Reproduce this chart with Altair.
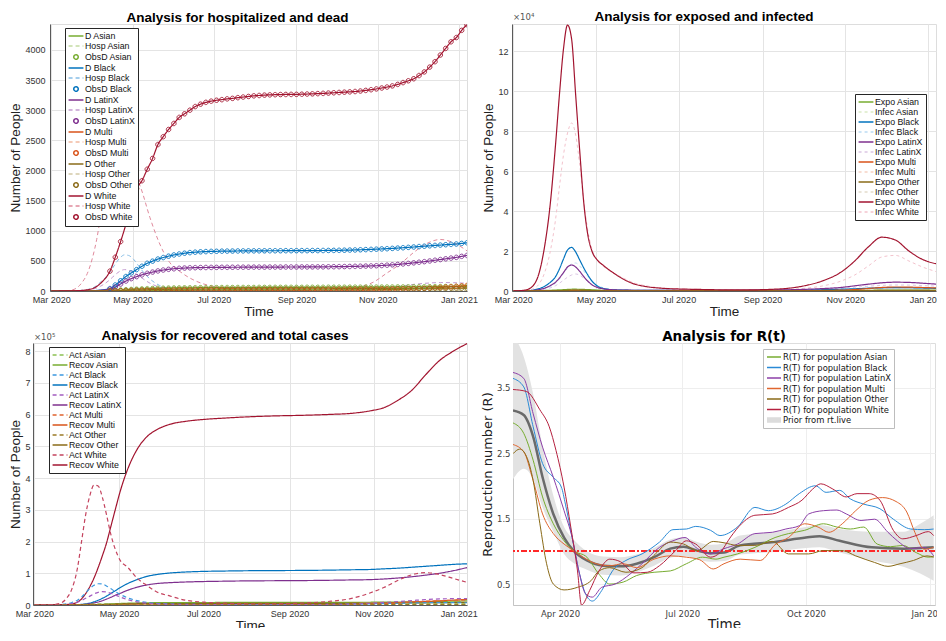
import altair as alt
import pandas as pd

RACES = ["Asian", "Black", "LatinX", "Multi", "Other", "White"]
BIG = ["Black", "LatinX", "White"]

SOLID = {"Asian": "#77AC30", "Black": "#0072BD", "LatinX": "#7E2F8E",
         "Multi": "#D95319", "Other": "#8A6A17", "White": "#A2142F"}
HOSP_C = {"Asian": "#c4dca3", "Black": "#86bde6", "LatinX": "#c49dd0",
          "Multi": "#f2b9a0", "Other": "#d3c9a6", "White": "#e08a9c"}
INFEC_C = {"Asian": "#dcebc6", "Black": "#bcdcf3", "LatinX": "#dcc6e4",
           "Multi": "#f6d2c3", "Other": "#e3dccb", "White": "#f3c3cd"}
ACT_C = {"Asian": "#8cc152", "Black": "#3b98df", "LatinX": "#a35cc0",
         "Multi": "#e0622d", "Other": "#9a7b26", "White": "#c4435e"}
RT_C = {"Asian": "#77AC30", "Black": "#2a8ad6", "LatinX": "#8c3fa8",
        "Multi": "#e0662f", "Other": "#8A6A17", "White": "#b5213f"}

# ---------------- time grids ----------------
G = ["2020-03-01", "2020-03-10", "2020-03-16", "2020-03-20", "2020-03-24", "2020-03-28",
     "2020-04-01", "2020-04-04", "2020-04-07", "2020-04-10", "2020-04-13", "2020-04-16",
     "2020-04-19", "2020-04-22", "2020-04-25", "2020-04-28", "2020-05-02", "2020-05-07",
     "2020-05-14", "2020-05-21", "2020-05-28", "2020-06-07", "2020-06-18", "2020-07-01",
     "2020-07-15", "2020-08-01", "2020-08-20", "2020-09-10", "2020-10-01", "2020-10-15",
     "2020-10-29", "2020-11-08", "2020-11-18", "2020-11-28", "2020-12-08", "2020-12-18",
     "2020-12-28", "2021-01-08"]
GC = ["2020-03-01", "2020-03-20", "2020-04-05", "2020-04-15", "2020-04-25", "2020-05-10",
      "2020-06-01", "2020-07-15", "2020-09-10", "2020-11-01", "2020-12-08", "2021-01-08"]
EARLY = ["2020-03-01", "2020-03-10", "2020-03-20", "2020-03-28", "2020-04-03", "2020-04-08"]
OBS_DATES = list(pd.date_range("2020-04-14", periods=68, freq="4D"))

# ---------------- panel 1: hospitalized and dead ----------------
HOSP_WHITE = [0, 2, 15, 50, 140, 290, 560, 850, 1230, 1550, 1850, 2080, 2220, 2260, 2220, 2120,
              1960, 1720, 1220, 800, 500, 300, 160, 75, 30, 15, 12, 12, 18, 50, 150, 300, 450,
              640, 790, 855, 800, 650]
HOSP_BLACK = [0, 0, 2, 5, 12, 25, 50, 90, 150, 210, 280, 380, 480, 560, 600, 590, 520, 370, 200,
              95, 40, 18, 8, 4, 2, 2, 2, 2, 3, 5, 10, 18, 30, 45, 60, 68, 65, 55]
HOSP_LATINX = [0, 0, 1, 3, 8, 16, 30, 50, 80, 120, 170, 230, 290, 335, 355, 345, 305, 230, 130,
               65, 30, 12, 5, 3, 2, 2, 2, 3, 5, 10, 25, 50, 80, 110, 130, 140, 138, 125]
HOSP_ASIAN = [0, 1, 5, 12, 15, 10, 4, 2, 2, 4, 10, 12]
HOSP_OTHER = [0, 1, 4, 8, 10, 7, 3, 1, 1, 3, 6, 7]
HOSP_MULTI = [0, 0, 2, 4, 5, 4, 2, 1, 2, 6, 25, 45]

D0_WHITE = [0, 1, 5, 20, 60, 150]
D0_BLACK = [0, 0, 1, 3, 8, 18]
D0_LATINX = [0, 0, 1, 2, 6, 14]
D0_ASIAN = [0, 0, 0, 1, 2, 3]
D0_MULTI = [0, 0, 0, 0, 0, 1]
D0_OTHER = [0, 0, 0, 0, 1, 1]

OBS_WHITE = [330, 560, 820, 1110, 1460, 1700, 1830, 2020, 2200, 2430,
             2560, 2680, 2780, 2880, 2940, 3000, 3060, 3100, 3130, 3150,
             3165, 3175, 3188, 3196, 3208, 3218, 3228, 3238, 3244, 3250,
             3254, 3257, 3259, 3261, 3262, 3263, 3265, 3268, 3271, 3275,
             3279, 3284, 3289, 3294, 3299, 3304, 3310, 3318, 3328, 3340,
             3353, 3368, 3384, 3403, 3428, 3458, 3488, 3522, 3575, 3635,
             3715, 3805, 3915, 4025, 4135, 4205, 4325, 4420]
OBS_BLACK = [40, 100, 170, 240, 300, 355, 410, 460, 495, 530,
             555, 578, 598, 614, 627, 637, 644, 650, 654, 657,
             659, 661, 662, 663, 664, 665, 666, 666, 667, 667,
             668, 668, 668, 669, 669, 669, 670, 670, 671, 671,
             672, 673, 674, 675, 677, 679, 681, 684, 687, 690,
             694, 698, 702, 707, 712, 718, 724, 730, 737, 743,
             750, 756, 762, 768, 774, 780, 790, 800]
OBS_LATINX = [30, 65, 115, 165, 205, 238, 268, 293, 314, 333,
              348, 360, 369, 376, 381, 385, 387, 389, 390, 391,
              392, 393, 393, 394, 394, 395, 395, 396, 396, 396,
              397, 397, 397, 398, 398, 398, 399, 399, 400, 400,
              401, 402, 403, 404, 405, 407, 409, 411, 413, 416,
              419, 423, 428, 434, 441, 449, 458, 467, 477, 487,
              498, 510, 522, 534, 546, 558, 575, 590]
OBS_ASIAN = [5, 10, 15, 20, 25, 30, 34, 38, 41, 44,
             46, 48, 50, 51, 52, 53, 54, 55, 55, 56,
             56, 57, 57, 57, 58, 58, 58, 58, 59, 59,
             59, 59, 60, 60, 60, 60, 60, 61, 61, 61,
             61, 62, 62, 62, 62, 63, 63, 63, 64, 64,
             65, 65, 66, 66, 67, 67, 68, 68, 69, 70,
             71, 72, 73, 74, 75, 76, 77, 78]
OBS_MULTI = [1, 2, 3, 4, 5, 6, 7, 8, 9, 10,
             10, 11, 11, 12, 12, 12, 13, 13, 13, 13,
             14, 14, 14, 14, 15, 15, 15, 15, 15, 15,
             15, 16, 16, 16, 16, 16, 16, 16, 17, 17,
             17, 17, 17, 18, 18, 18, 19, 19, 20, 20,
             21, 22, 23, 25, 27, 29, 32, 35, 39, 43,
             48, 53, 59, 65, 71, 77, 85, 92]
OBS_OTHER = [2, 4, 7, 10, 13, 16, 19, 21, 23, 25,
             27, 28, 29, 30, 31, 31, 32, 32, 33, 33,
             33, 34, 34, 34, 34, 35, 35, 35, 35, 35,
             35, 36, 36, 36, 36, 36, 36, 37, 37, 37,
             37, 37, 38, 38, 38, 38, 38, 39, 39, 39,
             39, 40, 40, 41, 41, 42, 42, 43, 43, 44,
             44, 45, 45, 46, 46, 47, 47, 48]

# ---------------- panel 2: exposed and infected ----------------
EXPO_WHITE = [0, 500, 3000, 9000, 22000, 42000, 72000, 98000, 121000, 133000, 126000, 98000,
              70000, 44000, 28000, 20000, 15500, 12500, 9000, 6000, 3800, 2200, 1400, 1000, 800,
              600, 550, 900, 2500, 5000, 9500, 15000, 22000, 26900, 25500, 20000, 15800, 13500]
INFEC_WHITE = [0, 200, 1200, 3500, 9000, 19000, 35000, 52000, 68000, 79000, 84000, 78000, 63000,
               45000, 30000, 21000, 15500, 12000, 9000, 6500, 4300, 2600, 1600, 1100, 850, 650,
               550, 650, 1300, 2500, 5000, 8000, 12500, 17000, 17800, 15000, 12000, 9500]
EXPO_BLACK = [0, 100, 500, 1200, 2300, 4200, 7000, 11000, 16000, 20500, 21800, 19500, 15500,
              11500, 8000, 5000, 2500, 1200, 600, 450, 350, 300, 280, 260, 250, 240, 250, 300,
              450, 650, 900, 1100, 1400, 1600, 1700, 1650, 1500, 1300]
INFEC_BLACK = [0, 30, 200, 500, 1100, 2200, 3800, 6000, 8800, 11500, 13500, 14000, 12500, 10000,
               7200, 4800, 2800, 1500, 750, 450, 330, 280, 260, 240, 230, 220, 230, 270, 380,
               550, 750, 950, 1200, 1400, 1500, 1480, 1350, 1200]
EXPO_LATINX = [0, 60, 300, 700, 1400, 2600, 4300, 6500, 9200, 12000, 13000, 12000, 9800, 7200,
               4900, 3100, 1800, 1000, 600, 450, 380, 350, 340, 330, 330, 340, 380, 500, 800,
               1200, 1800, 2600, 3400, 4100, 4400, 4300, 3900, 3400]
INFEC_LATINX = [0, 30, 180, 400, 800, 1500, 2600, 3900, 5400, 6900, 8000, 8500, 7900, 6400, 4700,
                3200, 2000, 1100, 650, 450, 370, 340, 330, 320, 320, 330, 360, 450, 650, 950,
                1400, 1900, 2400, 2800, 3000, 2950, 2700, 2400]
EXPO_ASIAN = [0, 150, 600, 900, 700, 250, 100, 60, 80, 250, 450, 400]
INFEC_ASIAN = [0, 80, 400, 650, 550, 250, 100, 60, 70, 200, 380, 350]
EXPO_MULTI = [0, 50, 200, 300, 250, 100, 50, 40, 80, 500, 2000, 1500]
INFEC_MULTI = [0, 30, 120, 200, 180, 80, 40, 30, 60, 300, 1400, 1300]
EXPO_OTHER = [0, 60, 250, 400, 300, 120, 60, 40, 50, 150, 300, 250]
INFEC_OTHER = [0, 40, 180, 300, 250, 110, 50, 35, 45, 120, 250, 220]

# ---------------- panel 3: recovered and total cases ----------------
RECOV_WHITE = [0, 0, 200, 600, 1500, 3500, 9000, 19000, 36000, 58000, 85000, 118000, 155000,
               195000, 245000, 295000, 360000, 425000, 490000, 530000, 552000, 570000, 579000,
               585000, 589000, 593000, 596000, 598000, 601000, 604000, 612000, 622000, 645000,
               676000, 725000, 770000, 800000, 826000]
ACT_WHITE = [0, 300, 2000, 6000, 20000, 50000, 115000, 200000, 285000, 345000, 378000, 375000,
             340000, 285000, 225000, 180000, 140000, 120000, 85000, 62000, 42000, 28000, 15000,
             9000, 6000, 4000, 4000, 6000, 12000, 20000, 38000, 55000, 77000, 95000, 102000,
             96000, 84000, 70000]
RECOV_BLACK = [0, 0, 30, 80, 200, 450, 1000, 2000, 3500, 6000, 10000, 15000, 21000, 28000, 36000,
               44000, 55000, 67000, 80000, 90000, 96000, 101000, 104000, 106000, 107000, 108000,
               108500, 109000, 110000, 111000, 112000, 114000, 116000, 119000, 122000, 125000,
               128000, 130000]
ACT_BLACK = [0, 100, 500, 1300, 3500, 8000, 15000, 25000, 38000, 52000, 62000, 67000, 66000,
             60000, 52000, 43000, 33000, 23000, 14000, 8000, 5000, 3000, 2000, 1500, 1200, 1000,
             1000, 1200, 1800, 2500, 3500, 4500, 5500, 6500, 7200, 7500, 7300, 7000]
RECOV_LATINX = [0, 0, 20, 50, 130, 300, 650, 1300, 2300, 4000, 6500, 9500, 13500, 18500, 24000,
                30000, 37000, 46000, 56000, 63000, 67500, 70500, 72500, 74000, 75000, 76000,
                76500, 77000, 78000, 79000, 80000, 82000, 85000, 89000, 94000, 100000, 108000,
                119000]
ACT_LATINX = [0, 60, 300, 800, 2000, 4500, 8500, 14000, 21000, 28000, 35000, 40000, 42000, 41000,
              37000, 32000, 25000, 17000, 10000, 6000, 3700, 2200, 1500, 1100, 900, 800, 800,
              1000, 1800, 3000, 5500, 8000, 11000, 14000, 17000, 19000, 20000, 20000]
ACT_ASIAN = [0, 100, 1500, 3000, 2800, 1500, 600, 300, 400, 1500, 3500, 3500]
RECOV_ASIAN = [0, 0, 300, 1500, 3500, 6000, 7500, 8000, 8200, 8800, 10500, 13000]
ACT_MULTI = [0, 50, 800, 1600, 1500, 900, 400, 300, 600, 3000, 12000, 16000]
RECOV_MULTI = [0, 0, 100, 600, 1500, 2800, 3500, 3800, 4200, 5500, 11000, 18000]
ACT_OTHER = [0, 80, 1000, 2000, 1800, 1000, 500, 300, 350, 900, 2000, 2200]
RECOV_OTHER = [0, 0, 200, 1000, 2200, 3800, 4500, 4800, 5000, 5500, 7000, 8500]

# ---------------- panel 4: R(t) ----------------
RT_WHITE = [("2020-02-26", 3.47), ("2020-03-07", 3.44), ("2020-03-17", 3.16), ("2020-03-24", 2.90),
            ("2020-03-29", 2.54), ("2020-04-04", 1.98), ("2020-04-09", 1.37), ("2020-04-14", 0.70),
            ("2020-04-17", 0.18), ("2020-04-23", 0.40), ("2020-04-30", 0.70), ("2020-05-08", 0.88),
            ("2020-05-16", 0.84), ("2020-05-26", 0.67), ("2020-06-05", 0.68), ("2020-06-14", 0.78),
            ("2020-06-26", 1.01), ("2020-07-04", 1.16), ("2020-07-11", 1.11), ("2020-07-22", 0.91),
            ("2020-07-29", 0.98), ("2020-08-06", 1.22), ("2020-08-14", 1.42), ("2020-08-24", 1.55),
            ("2020-09-06", 1.57), ("2020-09-18", 1.67), ("2020-09-28", 1.78), ("2020-10-06", 1.95),
            ("2020-10-12", 2.03), ("2020-10-21", 1.95), ("2020-10-31", 1.83), ("2020-11-08", 1.88),
            ("2020-11-17", 1.88), ("2020-11-25", 1.78), ("2020-12-05", 1.32), ("2020-12-12", 1.19),
            ("2020-12-22", 1.24), ("2020-12-31", 1.30), ("2021-01-04", 1.24)]
RT_BLACK = [("2020-02-26", 3.64), ("2020-03-05", 3.51), ("2020-03-12", 2.90), ("2020-03-19", 2.34),
            ("2020-03-27", 2.13), ("2020-04-02", 1.98), ("2020-04-05", 1.72), ("2020-04-10", 1.21),
            ("2020-04-15", 0.70), ("2020-04-20", 0.35), ("2020-04-25", 0.24), ("2020-05-02", 0.40),
            ("2020-05-10", 0.70), ("2020-05-20", 0.86), ("2020-06-01", 0.96), ("2020-06-14", 1.14),
            ("2020-06-24", 1.33), ("2020-07-04", 1.34), ("2020-07-11", 1.38), ("2020-07-22", 1.32),
            ("2020-07-29", 1.24), ("2020-08-11", 1.37), ("2020-08-24", 1.67), ("2020-09-03", 1.62),
            ("2020-09-16", 1.72), ("2020-09-26", 1.88), ("2020-10-08", 2.00), ("2020-10-16", 1.90),
            ("2020-10-26", 1.93), ("2020-11-03", 1.80), ("2020-11-13", 1.72), ("2020-11-25", 1.65),
            ("2020-12-05", 1.49), ("2020-12-18", 1.34), ("2020-12-28", 1.33), ("2021-01-04", 1.34)]
RT_LATINX = [("2020-02-26", 3.73), ("2020-03-05", 3.64), ("2020-03-12", 3.10), ("2020-03-19", 2.59),
             ("2020-03-27", 2.13), ("2020-04-04", 1.62), ("2020-04-10", 1.21), ("2020-04-15", 0.70),
             ("2020-04-20", 0.35), ("2020-04-25", 0.30), ("2020-05-02", 0.45), ("2020-05-12", 0.50),
             ("2020-05-23", 0.65), ("2020-06-01", 0.81), ("2020-06-14", 1.06), ("2020-06-24", 1.16),
             ("2020-07-03", 1.21), ("2020-07-11", 1.06), ("2020-07-22", 0.96), ("2020-08-01", 1.04),
             ("2020-08-11", 1.11), ("2020-08-24", 1.27), ("2020-09-06", 1.29), ("2020-09-16", 1.34),
             ("2020-09-26", 1.39), ("2020-10-03", 1.57), ("2020-10-14", 1.62), ("2020-10-24", 1.63),
             ("2020-10-31", 1.57), ("2020-11-11", 1.47), ("2020-11-21", 1.49), ("2020-12-01", 1.29),
             ("2020-12-08", 1.16), ("2020-12-18", 1.04), ("2020-12-28", 1.06), ("2021-01-04", 0.93)]
RT_ASIAN = [("2020-02-26", 2.96), ("2020-03-05", 2.80), ("2020-03-12", 2.39), ("2020-03-19", 1.83),
            ("2020-03-27", 1.42), ("2020-04-04", 1.16), ("2020-04-11", 1.01), ("2020-04-21", 0.91),
            ("2020-04-30", 0.65), ("2020-05-08", 0.50), ("2020-05-18", 0.53), ("2020-05-28", 0.63),
            ("2020-06-10", 0.68), ("2020-06-22", 0.70), ("2020-07-04", 0.81), ("2020-07-16", 0.91),
            ("2020-07-26", 0.88), ("2020-08-01", 0.91), ("2020-08-11", 0.96), ("2020-08-24", 1.06),
            ("2020-09-08", 1.21), ("2020-09-18", 1.27), ("2020-09-30", 1.32), ("2020-10-14", 1.42),
            ("2020-10-24", 1.37), ("2020-11-03", 1.34), ("2020-11-13", 1.37), ("2020-11-23", 1.11),
            ("2020-12-03", 1.07), ("2020-12-12", 1.09), ("2020-12-22", 0.98), ("2020-12-31", 0.91),
            ("2021-01-04", 0.92)]
RT_MULTI = [("2020-02-26", 2.63), ("2020-03-05", 2.52), ("2020-03-12", 2.08), ("2020-03-19", 1.57),
            ("2020-03-27", 1.27), ("2020-04-04", 1.11), ("2020-04-11", 1.01), ("2020-04-18", 0.91),
            ("2020-04-28", 0.81), ("2020-05-08", 0.78), ("2020-05-18", 0.81), ("2020-05-28", 0.75),
            ("2020-06-10", 0.88), ("2020-06-22", 0.93), ("2020-07-04", 0.91), ("2020-07-14", 0.87),
            ("2020-07-24", 0.73), ("2020-08-01", 0.81), ("2020-08-13", 0.88), ("2020-08-28", 0.86),
            ("2020-09-08", 1.10), ("2020-09-18", 1.21), ("2020-09-30", 1.42), ("2020-10-10", 1.37),
            ("2020-10-18", 1.29), ("2020-10-28", 1.42), ("2020-11-07", 1.62), ("2020-11-17", 1.78),
            ("2020-11-27", 1.82), ("2020-12-07", 1.76), ("2020-12-15", 1.60), ("2020-12-21", 1.29),
            ("2020-12-28", 1.03), ("2021-01-04", 1.06)]
RT_OTHER = [("2020-02-26", 2.49), ("2020-03-02", 2.56), ("2020-03-07", 2.45), ("2020-03-12", 2.08),
            ("2020-03-17", 1.42), ("2020-03-22", 0.81), ("2020-03-27", 0.50), ("2020-04-04", 0.41),
            ("2020-04-14", 0.45), ("2020-04-24", 0.55), ("2020-04-30", 0.70), ("2020-05-08", 0.75),
            ("2020-05-20", 0.68), ("2020-06-01", 0.75), ("2020-06-11", 0.96), ("2020-06-22", 1.14),
            ("2020-07-02", 1.11), ("2020-07-12", 1.01), ("2020-07-24", 1.15), ("2020-08-01", 1.13),
            ("2020-08-11", 1.09), ("2020-08-24", 1.09), ("2020-09-06", 1.15), ("2020-09-18", 0.96),
            ("2020-10-03", 0.96), ("2020-10-14", 1.01), ("2020-10-28", 1.01), ("2020-11-07", 0.93),
            ("2020-11-21", 0.83), ("2020-12-01", 0.77), ("2020-12-10", 0.81), ("2020-12-20", 0.86),
            ("2020-12-30", 0.93), ("2021-01-04", 0.91)]
RT_MEAN = [("2020-02-26", 3.15), ("2020-03-05", 3.08), ("2020-03-12", 2.75), ("2020-03-19", 2.13),
           ("2020-03-27", 1.57), ("2020-04-04", 1.21), ("2020-04-11", 1.01), ("2020-04-21", 0.86),
           ("2020-05-03", 0.78), ("2020-05-16", 0.77), ("2020-05-28", 0.81), ("2020-06-10", 0.91),
           ("2020-06-22", 1.04), ("2020-07-02", 1.07), ("2020-07-12", 1.01), ("2020-07-22", 0.97),
           ("2020-08-01", 0.98), ("2020-08-13", 1.09), ("2020-09-07", 1.14), ("2020-10-01", 1.21),
           ("2020-10-11", 1.23), ("2020-10-26", 1.16), ("2020-11-19", 1.06), ("2020-12-13", 1.04),
           ("2021-01-04", 1.06)]
RT_BAND = [("2020-02-26", 2.10, 4.30), ("2020-03-05", 2.26, 3.97), ("2020-03-12", 2.10, 3.40),
           ("2020-03-19", 1.67, 2.59), ("2020-03-27", 1.30, 1.85), ("2020-04-04", 0.96, 1.37),
           ("2020-04-11", 0.82, 1.18), ("2020-04-21", 0.72, 1.00), ("2020-05-03", 0.64, 0.92),
           ("2020-05-16", 0.63, 0.91), ("2020-05-28", 0.68, 0.95), ("2020-06-10", 0.78, 1.05),
           ("2020-06-22", 0.90, 1.18), ("2020-07-02", 0.93, 1.21), ("2020-07-12", 0.88, 1.14),
           ("2020-07-22", 0.84, 1.10), ("2020-08-01", 0.85, 1.12), ("2020-08-13", 0.95, 1.24),
           ("2020-09-07", 0.99, 1.29), ("2020-10-01", 1.05, 1.37), ("2020-10-11", 1.06, 1.40),
           ("2020-10-26", 0.98, 1.34), ("2020-11-19", 0.86, 1.30), ("2020-12-13", 0.76, 1.30),
           ("2020-12-25", 0.66, 1.42), ("2021-01-04", 0.55, 1.55)]

# ---------------- helpers ----------------
LINE = "M-1.75,0H1.75"
LINE4 = "M-1.65,0H1.65"
CIRC = "M-0.53,0A0.53,0.53 0 1,0 0.53,0A0.53,0.53 0 1,0 -0.53,0Z"
RECT = "".join(f"M-1.65,{v}H1.65" for v in ("-0.45", "-0.3", "-0.15", "0", "0.15", "0.3", "0.45"))
SOLIDD = [1, 0]
SYM = 72

F = "Liberation Sans"
FD = "DejaVu Sans"
IND = dict(color="independent", strokeDash="independent", shape="independent")


def frame(dates, values, name):
    assert len(dates) == len(values), name
    return pd.DataFrame({"date": pd.to_datetime(list(dates)), "value": values, "series": name})


def xaxis(vals, font, size, col, dcol, gcol, tsize):
    return alt.Axis(values=vals, format="%b %Y", labelFont=font, labelFontSize=size,
                    labelColor=col, labelPadding=4, labelOverlap=False, labelFlush=False,
                    ticks=False, domainColor=dcol, domainWidth=1, gridColor=gcol, gridWidth=1,
                    titleFont=font, titleFontSize=tsize, titleFontWeight="normal",
                    titleColor="#222222", titlePadding=0)


def yaxis(vals, font, size, col, dcol, gcol, tsize, lpad, expr=None, fmt=None):
    kw = dict(values=vals, labelFont=font, labelFontSize=size, labelColor=col,
              labelPadding=lpad, labelOverlap=False, ticks=False, domainColor=dcol,
              domainWidth=1, gridColor=gcol, gridWidth=1, titleFont=font, titleFontSize=tsize,
              titleFontWeight="normal", titleColor="#222222", titlePadding=2)
    if expr:
        kw["labelExpr"] = expr
    if fmt:
        kw["format"] = fmt
    return alt.Axis(**kw)


def legend(x, y, font=F, size=8.8, stroke="#262626", sym=None, rowpad=0.0):
    kw = dict(title=None, orient="none", legendX=x, legendY=y, fillColor="white",
              strokeColor=stroke, padding=3, labelFont=font, labelFontSize=size,
              labelColor="#111111", symbolSize=SYM, symbolStrokeWidth=1.5, rowPadding=rowpad,
              labelOffset=4, symbolOffset=3, labelLimit=300, cornerRadius=0)
    if sym:
        kw["symbolType"] = sym
    return alt.Legend(**kw)


def title(text, dx, font=F, offset=0):
    return alt.TitleParams(text, font=font, fontSize=13.5, fontWeight="bold", color="#000000",
                           dx=dx, offset=offset, anchor="middle", frame="group")


XDOM = [alt.DateTime(year=2020, month=2, date=29), alt.DateTime(year=2021, month=1, date=7)]
XVALS = [alt.DateTime(year=2020, month=m, date=1) for m in (3, 5, 7, 9, 11)] + \
        [alt.DateTime(year=2021, month=1, date=1)]
X4DOM = [alt.DateTime(year=2020, month=2, date=26), alt.DateTime(year=2021, month=1, date=5)]
X4VALS = [alt.DateTime(year=2020, month=m, date=1) for m in (4, 7, 10)] + \
         [alt.DateTime(year=2021, month=1, date=1)]

LAB = "#333333"
DOMC = "#5a5a5a"
GRIDC = "#e4e4e4"
H_TOP = 267
H_BOT = 262


def xenc(dom=XDOM, vals=XVALS, font=F, size=9, dcol=DOMC, gcol=GRIDC, tsize=13.5, col=LAB):
    return alt.X("date:T", scale=alt.Scale(domain=dom, nice=False),
                 axis=xaxis(vals, font, size, col, dcol, gcol, tsize), title="Time")


# ================= panel 1 =================
HOSP = {"Asian": HOSP_ASIAN, "Black": HOSP_BLACK, "LatinX": HOSP_LATINX,
        "Multi": HOSP_MULTI, "Other": HOSP_OTHER, "White": HOSP_WHITE}
D0 = {"Asian": D0_ASIAN, "Black": D0_BLACK, "LatinX": D0_LATINX,
      "Multi": D0_MULTI, "Other": D0_OTHER, "White": D0_WHITE}
OBS = {"Asian": OBS_ASIAN, "Black": OBS_BLACK, "LatinX": OBS_LATINX,
       "Multi": OBS_MULTI, "Other": OBS_OTHER, "White": OBS_WHITE}

hosp_df = pd.concat([frame(G if r in BIG else GC, HOSP[r], f"Hosp {r}") for r in RACES])
d_df = pd.concat([frame(list(pd.to_datetime(EARLY)) + OBS_DATES, D0[r] + OBS[r], f"D {r}")
                  for r in RACES])
obs_df = pd.concat([frame(OBS_DATES, OBS[r], f"ObsD {r}") for r in RACES])

dom1, col1, dash1, shp1 = [], [], [], []
for r in RACES:
    dom1 += [f"D {r}", f"Hosp {r}", f"ObsD {r}"]
    col1 += [SOLID[r], HOSP_C[r], SOLID[r]]
    dash1 += [SOLIDD, [4, 3], SOLIDD]
    shp1 += [LINE, LINE, CIRC]
leg1 = legend(15, 4)
c1 = alt.Color("series:N", scale=alt.Scale(domain=dom1, range=col1), legend=leg1)
sd1 = alt.StrokeDash("series:N", scale=alt.Scale(domain=dom1, range=dash1), legend=leg1)
sh1 = alt.Shape("series:N", scale=alt.Scale(domain=dom1, range=shp1), legend=leg1)
x1 = xenc()
y1 = alt.Y("value:Q", scale=alt.Scale(domain=[0, 4430], nice=False),
           axis=yaxis(list(range(0, 4001, 500)), F, 9, LAB, DOMC, GRIDC, 13.5, 5, fmt="d"),
           title="Number of People")

p1 = alt.layer(
    alt.Chart(hosp_df).mark_line(strokeWidth=1, interpolate="monotone", clip=True)
    .encode(x=x1, y=y1, color=c1, strokeDash=sd1),
    alt.Chart(d_df).mark_line(strokeWidth=1.2, interpolate="monotone", clip=True)
    .encode(x=x1, y=y1, color=c1, strokeDash=sd1),
    alt.Chart(obs_df).mark_point(filled=False, size=SYM, strokeWidth=0.9, opacity=1, clip=True)
    .encode(x=x1, y=y1, color=c1, shape=sh1, strokeDash=sd1),
).properties(width=417, height=H_TOP, title=title("Analysis for hospitalized and dead", -21))

# ================= panel 2 =================
EXPO = {"Asian": EXPO_ASIAN, "Black": EXPO_BLACK, "LatinX": EXPO_LATINX,
        "Multi": EXPO_MULTI, "Other": EXPO_OTHER, "White": EXPO_WHITE}
INFEC = {"Asian": INFEC_ASIAN, "Black": INFEC_BLACK, "LatinX": INFEC_LATINX,
         "Multi": INFEC_MULTI, "Other": INFEC_OTHER, "White": INFEC_WHITE}
infec_df = pd.concat([frame(G if r in BIG else GC, INFEC[r], f"Infec {r}") for r in RACES])
expo_df = pd.concat([frame(G if r in BIG else GC, EXPO[r], f"Expo {r}") for r in RACES])

dom2, col2, dash2 = [], [], []
for r in RACES:
    dom2 += [f"Expo {r}", f"Infec {r}"]
    col2 += [SOLID[r], INFEC_C[r]]
    dash2 += [SOLIDD, [3, 3]]
leg2 = legend(343, 70, sym=LINE)
c2 = alt.Color("series:N", scale=alt.Scale(domain=dom2, range=col2), legend=leg2)
sd2 = alt.StrokeDash("series:N", scale=alt.Scale(domain=dom2, range=dash2), legend=leg2)
y2 = alt.Y("value:Q", scale=alt.Scale(domain=[0, 133500], nice=False),
           axis=yaxis(list(range(0, 120001, 20000)), F, 9, LAB, DOMC, GRIDC, 13.5, 4,
                      "datum.value / 10000"),
           title="Number of People")
x2 = xenc()
exp_txt = pd.DataFrame({"t": ["\u00d710\u2074"]})
exp_txt5 = pd.DataFrame({"t": ["\u00d710\u2075"]})

p2 = alt.layer(
    alt.Chart(infec_df).mark_line(strokeWidth=1, interpolate="monotone", clip=True)
    .encode(x=x2, y=y2, color=c2, strokeDash=sd2),
    alt.Chart(expo_df).mark_line(strokeWidth=1.2, interpolate="monotone", clip=True)
    .encode(x=x2, y=y2, color=c2, strokeDash=sd2),
    alt.Chart(exp_txt).mark_text(align="left", baseline="bottom", font=FD, fontSize=8.5,
                                 color="#555555")
    .encode(x=alt.value(1), y=alt.value(-2), text="t:N"),
).properties(width=424, height=H_TOP,
             title=title("Analysis for exposed and infected", -20, offset=-10.5))

# ================= panel 3 =================
ACT = {"Asian": ACT_ASIAN, "Black": ACT_BLACK, "LatinX": ACT_LATINX,
       "Multi": ACT_MULTI, "Other": ACT_OTHER, "White": ACT_WHITE}
RECOV = {"Asian": RECOV_ASIAN, "Black": RECOV_BLACK, "LatinX": RECOV_LATINX,
         "Multi": RECOV_MULTI, "Other": RECOV_OTHER, "White": RECOV_WHITE}
act_df = pd.concat([frame(G if r in BIG else GC, ACT[r], f"Act {r}") for r in RACES])
recov_df = pd.concat([frame(G if r in BIG else GC, RECOV[r], f"Recov {r}") for r in RACES])

dom3, col3, dash3 = [], [], []
for r in RACES:
    dom3 += [f"Act {r}", f"Recov {r}"]
    col3 += [ACT_C[r], SOLID[r]]
    dash3 += [[4, 3], SOLIDD]
leg3 = legend(16, 4, sym=LINE)
c3 = alt.Color("series:N", scale=alt.Scale(domain=dom3, range=col3), legend=leg3)
sd3 = alt.StrokeDash("series:N", scale=alt.Scale(domain=dom3, range=dash3), legend=leg3)
y3 = alt.Y("value:Q", scale=alt.Scale(domain=[0, 826000], nice=False),
           axis=yaxis(list(range(0, 800001, 100000)), F, 9, LAB, DOMC, GRIDC, 13.5, 3,
                      "datum.value / 100000"),
           title="Number of People")
x3 = xenc()

p3 = alt.layer(
    alt.Chart(recov_df).mark_line(strokeWidth=1.2, interpolate="monotone", clip=True)
    .encode(x=x3, y=y3, color=c3, strokeDash=sd3),
    alt.Chart(act_df).mark_line(strokeWidth=1.2, interpolate="monotone", clip=True)
    .encode(x=x3, y=y3, color=c3, strokeDash=sd3),
    alt.Chart(exp_txt5).mark_text(align="left", baseline="bottom", font=FD, fontSize=8.5,
                                  color="#555555")
    .encode(x=alt.value(1), y=alt.value(-1), text="t:N"),
).properties(width=434, height=H_BOT,
             title=title("Analysis for recovered and total cases", -25, offset=-9.5))

# ================= panel 4 =================
RT = {"Asian": RT_ASIAN, "Black": RT_BLACK, "LatinX": RT_LATINX,
      "Multi": RT_MULTI, "Other": RT_OTHER, "White": RT_WHITE}
rt_df = pd.concat([frame([d for d, _ in RT[r]], [v for _, v in RT[r]],
                         f"R(T) for population {r}") for r in RACES])
mean_df = frame([d for d, _ in RT_MEAN], [v for _, v in RT_MEAN], "mean")
band_df = pd.DataFrame({"date": pd.to_datetime([b[0] for b in RT_BAND]),
                        "lo": [b[1] for b in RT_BAND], "hi": [b[2] for b in RT_BAND]})

dom4 = [f"R(T) for population {r}" for r in RACES] + ["Prior from rt.live"]
col4 = [RT_C[r] for r in RACES] + ["#dcdcdc"]
shp4 = [LINE4] * 6 + [RECT]
leg4 = legend(250, 6, font=FD, size=8.4, stroke="#bdbdbd", rowpad=0.5)
c4 = alt.Color("series:N", scale=alt.Scale(domain=dom4, range=col4), legend=leg4)
sh4 = alt.Shape("series:N", scale=alt.Scale(domain=dom4, range=shp4), legend=leg4)
x4 = xenc(X4DOM, X4VALS, FD, 8.5, "#c4c4c4", "#eeeeee", 13.5, "#404040")
y4s = alt.Scale(domain=[0.18, 4.18], nice=False, zero=False)
y4ax = yaxis([0.5, 1, 1.5, 2, 2.5, 3, 3.5, 4], FD, 8.5, "#404040", "#c4c4c4", "#eeeeee", 13, 3)
y4 = alt.Y("value:Q", scale=y4s, axis=y4ax, title="Reproduction number (R)")

p4 = alt.layer(
    alt.Chart(band_df).mark_area(color="#e2e2e2", interpolate="monotone", clip=True)
    .encode(x=x4, y=alt.Y("lo:Q", scale=y4s, axis=y4ax, title="Reproduction number (R)"),
            y2="hi:Q"),
    alt.Chart(mean_df).mark_line(color="#6a6a6a", strokeWidth=2.5, interpolate="monotone",
                                 clip=True).encode(x=x4, y=y4),
    alt.Chart(mean_df).mark_rule(color="#ff2a2a", strokeWidth=1, strokeDash=[6, 2, 2, 2])
    .encode(y=alt.datum(1)),
    alt.Chart(rt_df).mark_line(strokeWidth=1, interpolate="monotone", clip=True)
    .encode(x=x4, y=y4, color=c4),
    alt.Chart(rt_df).transform_filter("false")
    .mark_point(filled=False, size=SYM, opacity=1)
    .encode(x=x4, y=y4, color=c4, shape=sh4),
).properties(width=422, height=H_BOT, title=title("Analysis for R(t)", 0, FD))

# invisible 1px spacers lead each row, so every panel is placed by its own axis width
spacer_df = pd.DataFrame({"t": [""]})
sp1 = alt.Chart(spacer_df).mark_text().encode(text="t:N").properties(width=1, height=1)
sp2 = alt.Chart(spacer_df).mark_text().encode(text="t:N").properties(width=1, height=1)

row_top = alt.concat(sp1, p1, p2, columns=3, spacing=2, align="each", bounds="full") \
    .resolve_scale(**IND).resolve_legend(**IND)
row_bot = alt.concat(sp2, p3, p4, columns=3, spacing=2, align="each", bounds="full") \
    .resolve_scale(**IND).resolve_legend(**IND)
chart = alt.vconcat(row_top, row_bot, spacing=10).resolve_scale(**IND).resolve_legend(**IND)
chart = chart.properties(
    padding={"left": 5, "top": 9, "right": -12, "bottom": -4}
).configure_view(strokeWidth=0).configure(background="white")

chart.save("out.html", embed_options={"renderer": "svg", "actions": False})
